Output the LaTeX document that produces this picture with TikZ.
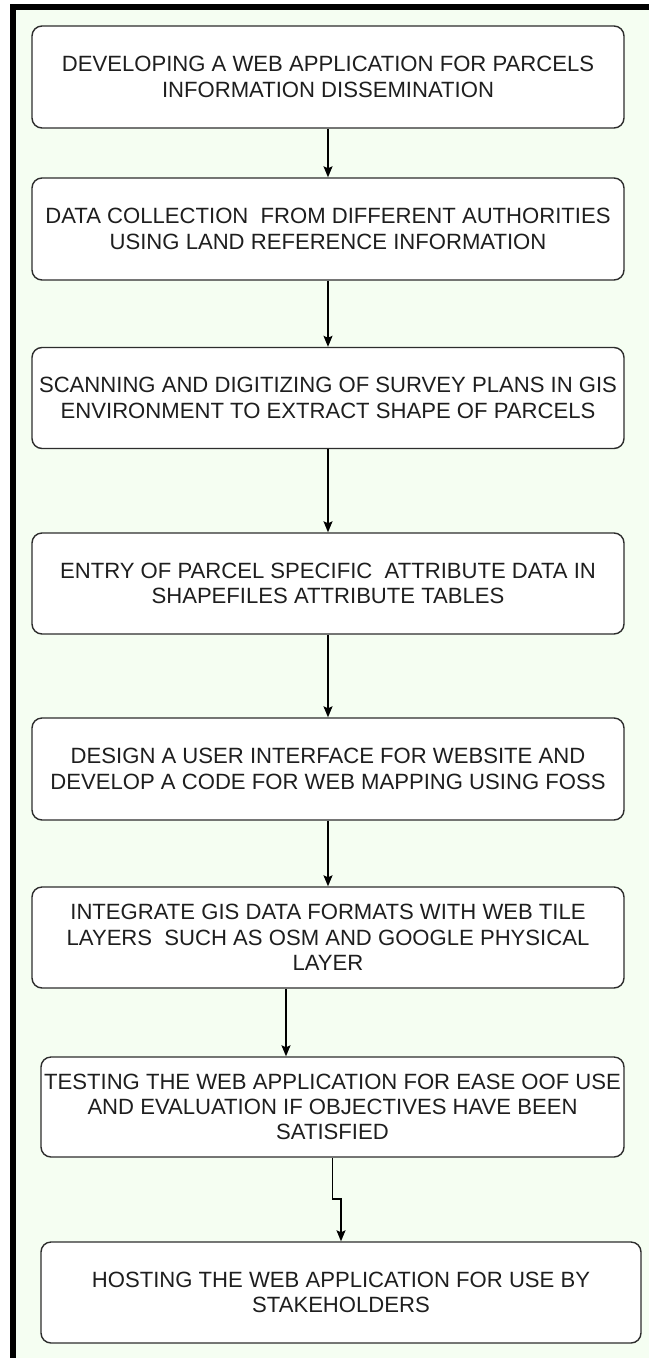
\documentclass[tikz,border=0pt]{standalone}
\usepackage{fontspec}
\setmainfont{Liberation Sans}
\usetikzlibrary{arrows.meta}
\definecolor{bggreen}{RGB}{245,254,242}
\definecolor{edgegray}{RGB}{45,45,45}
\definecolor{txtgray}{RGB}{30,30,30}
\begin{document}
\begin{tikzpicture}[x=1pt,y=-1pt,
  stepbox/.style={draw=edgegray, line width=1.4pt, rounded corners=10pt, fill=white,
    align=center, inner sep=0pt, text=txtgray,
    font=\fontsize{22.1}{25.3}\selectfont},
  arr/.style={draw=black, line width=1.3pt,
    -{Stealth[length=11pt,width=9pt,inset=2pt]}}]
\useasboundingbox (0,0) rectangle (649,1358);
\fill[white] (0,0) rectangle (649,1358);
\fill[black] (10,4) rectangle (649,1358);
\fill[bggreen] (16,10) rectangle (649,1358);

\node[stepbox, minimum width=592pt, minimum height=102pt] (b1) at (328,77)
  {DEVELOPING A WEB APPLICATION FOR PARCELS\\INFORMATION DISSEMINATION};
\node[stepbox, minimum width=592pt, minimum height=102pt] (b2) at (328,229)
  {DATA COLLECTION\ \ FROM DIFFERENT AUTHORITIES\\USING LAND REFERENCE INFORMATION};
\node[stepbox, minimum width=592pt, minimum height=101pt] (b3) at (328,398)
  {SCANNING AND DIGITIZING OF SURVEY PLANS IN GIS\\ENVIRONMENT TO EXTRACT SHAPE OF PARCELS};
\node[stepbox, minimum width=592pt, minimum height=101pt] (b4) at (328,583.5)
  {ENTRY OF PARCEL SPECIFIC\ \ ATTRIBUTE DATA IN\\SHAPEFILES ATTRIBUTE TABLES};
\node[stepbox, minimum width=592pt, minimum height=102pt] (b5) at (328,769)
  {DESIGN A USER INTERFACE FOR WEBSITE AND\\DEVELOP A CODE FOR WEB MAPPING USING FOSS};
\node[stepbox, minimum width=592pt, minimum height=101pt] (b6) at (328,937.5)
  {INTEGRATE GIS DATA FORMATS WITH WEB TILE\\LAYERS\ \ SUCH AS OSM AND GOOGLE PHYSICAL\\LAYER};
\node[stepbox, minimum width=583pt, minimum height=100pt] (b7) at (332.5,1107)
  {TESTING THE WEB APPLICATION FOR EASE OOF USE\\AND EVALUATION IF OBJECTIVES HAVE BEEN\\SATISFIED};
\node[stepbox, minimum width=600pt, minimum height=101pt] (b8) at (341,1292.5)
  {HOSTING THE WEB APPLICATION FOR USE BY\\STAKEHOLDERS};

\draw[arr] (b1.south) -- (b2.north);
\draw[arr] (b2.south) -- (b3.north);
\draw[arr] (b3.south) -- (b4.north);
\draw[arr] (b4.south) -- (b5.north);
\draw[arr] (b5.south) -- (b6.north);
\coordinate (k67) at (286,0);
\draw[arr] (b6.south -| k67) -- (b7.north -| k67);
\coordinate (k78) at (0,1199);
\draw[arr] (b7.south) -- (b7.south |- k78) -- (b8.north |- k78) -- (b8.north);
\end{tikzpicture}
\end{document}
